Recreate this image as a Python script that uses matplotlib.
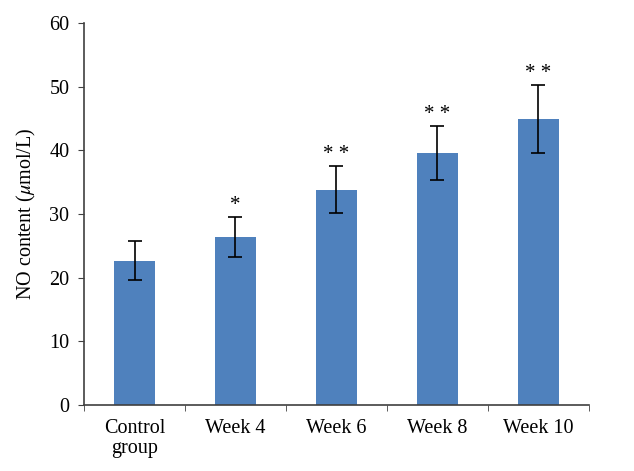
import matplotlib
matplotlib.use("Agg")
import matplotlib.pyplot as plt
import numpy as np

# 数据
groups = ["Control\ngroup", "Week 4", "Week 6", "Week 8", "Week 10"]
values = [22.7, 26.4, 33.8, 39.6, 44.9]
errors = [3.1, 3.1, 3.7, 4.2, 5.3]
marks = ["", "*", "* *", "* *", "* *"]

plt.rcParams["font.family"] = ["Liberation Serif", "DejaVu Serif"]
plt.rcParams["mathtext.fontset"] = "stix"

fig = plt.figure(figsize=(6.34, 4.71), dpi=100)
ax = fig.add_axes([0.1325, 0.14, 0.7965, 0.811])

x = np.arange(len(groups))
ax.bar(x, values, width=0.4, color="#4F81BD")
ax.errorbar(x, values, yerr=errors, fmt="none", ecolor="black",
            elinewidth=1.2, capsize=5, capthick=1.2)

# 显著性标记
for i in range(len(groups)):
    if marks[i]:
        ax.text(x[i], values[i] + errors[i] + 0.4, marks[i], ha="center",
                va="bottom", fontsize=15)

ax.set_xlim(-0.5, len(groups) - 0.5)
ax.set_ylim(0, 60)
ax.set_yticks(range(0, 61, 10))
ax.set_xticks(x)
ax.set_xticklabels(groups, fontsize=14.5, linespacing=1.1)
ax.set_xticks(np.arange(-0.5, len(groups), 1), minor=True)
ax.tick_params(axis="x", which="major", length=0, pad=10)
ax.tick_params(axis="x", which="minor", length=4.5, direction="out", color="#404040")
ax.tick_params(axis="y", length=4.5, direction="out", color="#404040",
               labelsize=14.5, pad=6)
ax.set_ylabel("NO content ($\\mu$mol/L)", fontsize=14.5, labelpad=8)

for s in ["top", "right"]:
    ax.spines[s].set_visible(False)
for s in ["left", "bottom"]:
    ax.spines[s].set_color("#404040")
    ax.spines[s].set_linewidth(1.2)

fig.savefig("out.png", dpi=100)
